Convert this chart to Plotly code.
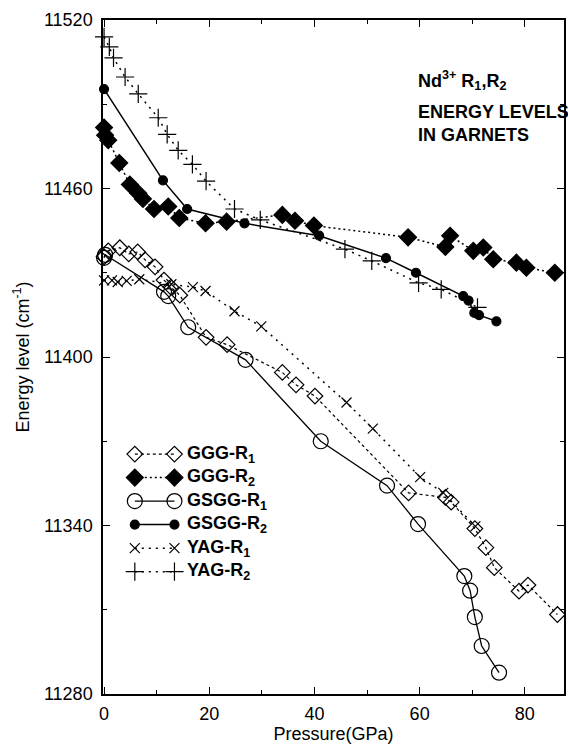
import plotly.graph_objects as go

# Nd3+ R1/R2 line positions (cm^-1) versus pressure (GPa) in four garnet hosts
ggg_r1_p = [0.0, 0.8, 3.0, 4.7, 6.4, 7.8, 9.7, 11.4, 12.7, 14.4, 19.4, 23.4, 33.9, 36.5, 40.1,
            57.9, 64.9, 66.0, 70.5, 72.6, 74.2, 78.9, 80.6, 86.2]
ggg_r1_e = [11435.7, 11437.8, 11438.9, 11436.7, 11437.4, 11434.6, 11432.1, 11427.4, 11424.9,
            11422.0, 11407.0, 11404.4, 11394.5, 11390.1, 11386.1, 11351.6, 11350.0, 11348.3,
            11338.9, 11332.1, 11325.0, 11316.6, 11318.8, 11308.3]

ggg_r2_p = [0.0, 0.2, 0.8, 2.9, 4.9, 6.5, 7.4, 9.5, 12.2, 14.3, 19.3, 23.3, 33.9, 36.3, 39.9,
            57.8, 64.9, 65.8, 70.2, 72.1, 74.0, 78.4, 80.3, 85.7]
ggg_r2_e = [11481.7, 11479.0, 11477.2, 11469.1, 11461.4, 11458.3, 11456.3, 11452.7, 11453.6,
            11449.5, 11447.6, 11448.2, 11450.6, 11448.5, 11446.8, 11442.6, 11439.2, 11443.2,
            11437.8, 11439.0, 11434.8, 11433.6, 11431.8, 11430.0]

gsgg_r1_p = [0.0, 0.2, 11.4, 12.2, 16.0, 26.9, 41.2, 53.8, 59.7, 68.5, 69.6, 70.5, 71.8, 75.1]
gsgg_r1_e = [11435.3, 11436.4, 11423.2, 11421.7, 11410.6, 11399.0, 11370.0, 11354.2, 11340.5,
             11322.0, 11316.8, 11307.4, 11297.1, 11287.6]

gsgg_r2_p = [0.0, 11.2, 15.8, 26.7, 40.9, 53.6, 59.3, 68.3, 69.3, 70.4, 71.3, 74.6]
gsgg_r2_e = [11495.4, 11462.9, 11452.7, 11447.6, 11443.2, 11435.2, 11430.0, 11421.7, 11420.1,
             11415.7, 11414.9, 11412.7]

yag_r1_p = [0.0, 1.5, 2.6, 4.3, 6.7, 12.8, 16.9, 19.3, 24.8, 29.9, 46.1, 51.1, 60.1, 64.5, 70.6]
yag_r1_e = [11427.3, 11427.3, 11426.7, 11427.1, 11427.7, 11425.9, 11424.9, 11423.5, 11416.3,
            11410.9, 11383.8, 11374.5, 11357.2, 11351.6, 11339.7]

yag_r2_p = [0.0, 1.0, 1.8, 4.0, 6.5, 10.3, 12.0, 14.1, 16.8, 19.4, 24.8, 29.7, 45.8, 50.9,
            59.8, 64.1, 71.0]
yag_r2_e = [11514.0, 11510.4, 11506.5, 11499.7, 11493.7, 11485.2, 11479.3, 11473.6, 11468.6,
            11462.6, 11452.7, 11448.8, 11438.4, 11434.2, 11426.4, 11424.1, 11417.7]

series_names = ["GGG-R<sub>1</sub>", "GGG-R<sub>2</sub>", "GSGG-R<sub>1</sub>",
                "GSGG-R<sub>2</sub>", "YAG-R<sub>1</sub>", "YAG-R<sub>2</sub>"]

x_ticks = [0, 20, 40, 60, 80]
y_ticks = [11280, 11340, 11400, 11460, 11520]

BLACK = "black"
FONT = "Liberation Sans, Arial, Helvetica, sans-serif"

styles = [
    dict(symbol="diamond-open", size=12, lw=1.2, dash="3px,3px"),
    dict(symbol="diamond", size=13, lw=1.5, dash="2px,3px"),
    dict(symbol="circle-open", size=15, lw=1.3, dash="solid"),
    dict(symbol="circle", size=9, lw=1.5, dash="solid"),
    dict(symbol="x-thin-open", size=10, lw=1.5, dash="2px,5px"),
    dict(symbol="cross-thin-open", size=13, lw=1.5, dash="2px,5px"),
]

data = [(ggg_r1_p, ggg_r1_e), (ggg_r2_p, ggg_r2_e), (gsgg_r1_p, gsgg_r1_e),
        (gsgg_r2_p, gsgg_r2_e), (yag_r1_p, yag_r1_e), (yag_r2_p, yag_r2_e)]

fig = go.Figure()

for (px, ey), st, name in zip(data, styles, series_names):
    fig.add_trace(go.Scatter(
        x=px, y=ey, mode="lines+markers", name=name, showlegend=False,
        cliponaxis=False,
        line=dict(color=BLACK, width=st["lw"], dash=st["dash"]),
        marker=dict(symbol=st["symbol"], size=st["size"], color=BLACK,
                    line=dict(color=BLACK, width=1.2)),
    ))

# hand-drawn key: a short line with a marker at each end, on an overlay axis in [0,1]
key_x0, key_x1, key_text_x = 0.069, 0.155, 0.178
key_top, key_step = 0.356, 0.0349
for i, (st, name) in enumerate(zip(styles, series_names)):
    yk = key_top - i * key_step
    fig.add_trace(go.Scatter(
        x=[key_x0, key_x1], y=[yk, yk], xaxis="x2", yaxis="y2",
        mode="lines+markers", showlegend=False, cliponaxis=False, hoverinfo="skip",
        line=dict(color=BLACK, width=st["lw"], dash=st["dash"]),
        marker=dict(symbol=st["symbol"], size=st["size"], color=BLACK,
                    line=dict(color=BLACK, width=1.2)),
    ))
    fig.add_annotation(x=key_text_x, y=yk, xref="x2", yref="y2", text="<b>%s</b>" % name,
                       showarrow=False, xanchor="left", yanchor="middle",
                       font=dict(family=FONT, size=18, color=BLACK))

title_lines = ["<b>Nd<sup>3+</sup> R<sub>1</sub>,R<sub>2</sub></b>",
               "<b>ENERGY LEVELS</b>", "<b>IN GARNETS</b>"]
for txt, yy in zip(title_lines, [0.910, 0.863, 0.829]):
    fig.add_annotation(x=0.68, y=yy, xref="paper", yref="paper", text=txt,
                       showarrow=False, xanchor="left", yanchor="middle",
                       font=dict(family=FONT, size=18, color=BLACK))

axis_common = dict(showline=True, linecolor=BLACK, linewidth=1.5, mirror="ticks",
                   ticks="inside", ticklen=7, tickwidth=1.2, tickcolor=BLACK,
                   showgrid=False, zeroline=False,
                   tickfont=dict(family=FONT, size=18, color=BLACK))

fig.update_layout(
    width=568, height=750,
    margin=dict(l=103, r=2, t=20, b=56),
    paper_bgcolor="white", plot_bgcolor="white",
    font=dict(family=FONT, color=BLACK),
    xaxis=dict(range=[-0.2, 87.45], tickvals=x_ticks,
               minor=dict(dtick=10, ticks="inside", ticklen=4, tickcolor=BLACK),
               title=dict(text="Pressure(GPa)", font=dict(family=FONT, size=18, color=BLACK),
                          standoff=4),
               ticklabelstandoff=3, **axis_common),
    yaxis=dict(range=[11280, 11520], tickvals=y_ticks, tickformat="d",
               minor=dict(dtick=30, ticks="inside", ticklen=4, tickcolor=BLACK),
               title=dict(text="Energy level (cm<sup>-1</sup>)",
                          font=dict(family=FONT, size=18, color=BLACK), standoff=10),
               ticklabelstandoff=5, **axis_common),
    xaxis2=dict(range=[0, 1], overlaying="x", visible=False),
    yaxis2=dict(range=[0, 1], overlaying="y", visible=False),
)

fig.write_html("out.html")
